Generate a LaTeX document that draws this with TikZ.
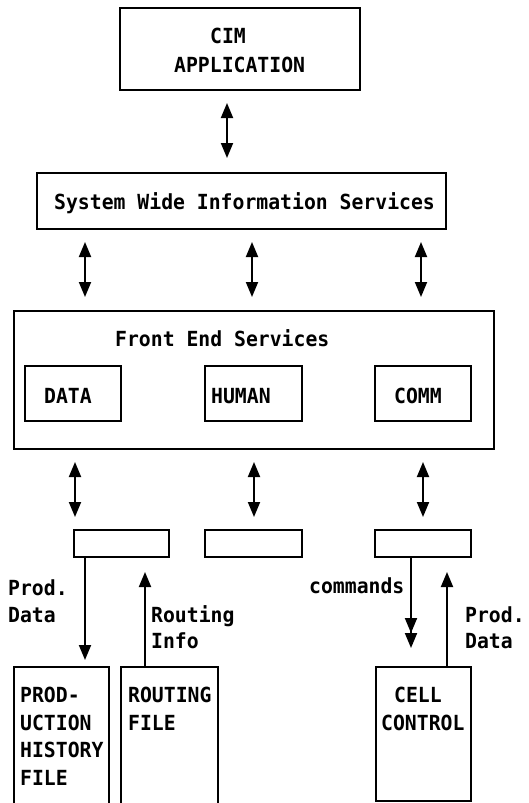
\documentclass[tikz,border=0pt]{standalone}
\usepackage{fontspec}
\newfontfamily\diagfont{DejaVu Sans Mono}[FakeStretch=0.95]
\usetikzlibrary{arrows.meta,fit}
\begin{document}
\begin{tikzpicture}[x=1pt,y=-1pt,
  box/.style={draw, line width=1.6pt, inner sep=0pt},
  lbl/.style={anchor=base west, inner sep=0pt,
    font=\diagfont\bfseries\fontsize{20.8}{24}\selectfont},
  both/.style={line width=1.9pt, {Triangle[length=15pt,width=12pt]}-{Triangle[length=15pt,width=12pt]}},
  down/.style={line width=1.9pt, -{Triangle[length=15pt,width=12pt]}},
  twice/.style={line width=1.9pt, -{Triangle[length=15pt,width=12pt] Triangle[length=15pt,width=12pt]}}
]
\useasboundingbox (0,0) rectangle (528,803);
\clip (0,0) rectangle (528,803);

% boxes
\node[box, fit={(120,8) (360,90)}] (cim) {};
\node[box, fit={(37,173) (446,229)}] (swis) {};
\node[box, fit={(14,311) (494,449)}] (fes) {};
\node[box, fit={(25,366) (121,421)}] (data) {};
\node[box, fit={(205,366) (302,421)}] (human) {};
\node[box, fit={(375,366) (471,421)}] (comm) {};
\node[box, fit={(74,530) (169,557)}] (portA) {};
\node[box, fit={(205,530) (302,557)}] (portB) {};
\node[box, fit={(375,530) (471,557)}] (portC) {};
\node[box, fit={(14,667) (109,830)}] (hist) {};
\node[box, fit={(121,667) (218,830)}] (route) {};
\node[box, fit={(376,667) (471,801)}] (cell) {};

% texts
\node[lbl] (t1) at (210,43) {CIM};
\node[lbl] (t2) at (174,72) {APPLICATION};
\node[lbl] (t3) at (54,209) {System Wide Information Services};
\node[lbl] (t4) at (115,346) {Front End Services};
\node[lbl] (t5) at (44,403) {DATA};
\node[lbl] (t6) at (211,403) {HUMAN};
\node[lbl] (t7) at (394,403) {COMM};
\node[lbl] (t8) at (8,595) {Prod.};
\node[lbl] (t9) at (8,622) {Data};
\node[lbl] (t10) at (151,622) {Routing};
\node[lbl] (t11) at (151,648) {Info};
\node[lbl] (t12) at (309,593) {commands};
\node[lbl] (t13) at (465,622) {Prod.};
\node[lbl] (t14) at (465,648) {Data};
\node[lbl] (t15) at (20,702) {PROD-};
\node[lbl] (t16) at (20,730) {UCTION};
\node[lbl] (t17) at (20,757) {HISTORY};
\node[lbl] (t18) at (20,785) {FILE};
\node[lbl] (t19) at (128,702) {ROUTING};
\node[lbl] (t20) at (128,730) {FILE};
\node[lbl] (t21) at (394,702) {CELL};
\node[lbl] (t22) at (381,730) {CONTROL};

% arrow end points
\coordinate (a1) at (227,103); \coordinate (b1) at (227,158);
\coordinate (a2) at (85,242);  \coordinate (b2) at (85,297);
\coordinate (a3) at (252,242); \coordinate (b3) at (252,297);
\coordinate (a4) at (421,242); \coordinate (b4) at (421,297);
\coordinate (a5) at (75,462);  \coordinate (b5) at (75,517);
\coordinate (a6) at (254,462); \coordinate (b6) at (254,517);
\coordinate (a7) at (423,462); \coordinate (b7) at (423,517);
\coordinate (a8) at (85,557);  \coordinate (b8) at (85,660);
\coordinate (a9) at (145,667); \coordinate (b9) at (145,572);
\coordinate (a10) at (411,557); \coordinate (b10) at (411,648);
\coordinate (a11) at (447,667); \coordinate (b11) at (447,572);

% connectors
\draw[both] (a1) -- (b1);
\draw[both] (a2) -- (b2);
\draw[both] (a3) -- (b3);
\draw[both] (a4) -- (b4);
\draw[both] (a5) -- (b5);
\draw[both] (a6) -- (b6);
\draw[both] (a7) -- (b7);
\draw[down] (a8) -- (b8);
\draw[down] (a9) -- (b9);
\draw[twice] (a10) -- (b10);
\draw[down] (a11) -- (b11);
\end{tikzpicture}
\end{document}
